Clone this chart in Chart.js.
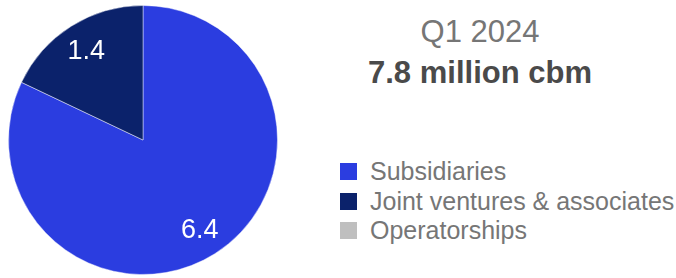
<!DOCTYPE html>
<html>
<head>
<meta charset="utf-8">
<script src="https://cdn.jsdelivr.net/npm/chart.js@4.4.1/dist/chart.umd.min.js"></script>
<style>
  body { margin: 0; background: #fff; font-family: "Liberation Sans", Arial, sans-serif; }
  #wrap { position: relative; width: 676px; height: 278px; overflow: hidden; }
  #pie-box { position: absolute; left: 0; top: 0; width: 286px; height: 278px; }
  .title { position: absolute; left: 330px; width: 300px; text-align: center; font-size: 31px; line-height: 31px; white-space: nowrap; }
  #period { top: 16px; color: #767676; }
  #total { top: 57px; color: #4a4a4a; font-weight: bold; }
  #legend { position: absolute; left: 340px; top: 157px; margin: 0; padding: 0; list-style: none; }
  #legend li { height: 29.5px; line-height: 29.5px; font-size: 25px; color: #767676; white-space: nowrap; }
  #legend span { display: inline-block; width: 17px; height: 17px; margin-right: 13px; vertical-align: baseline; }
</style>
</head>
<body>
<div id="wrap">
  <div id="pie-box"><canvas id="pie-chart"></canvas></div>
  <div class="title" id="period"></div>
  <div class="title" id="total"></div>
  <ul id="legend"></ul>
</div>
<script>
// data
const categories = ["Subsidiaries", "Joint ventures & associates", "Operatorships"];
const volumes = [6.4, 1.4, 0];
const sliceColors = ["#2b3de0", "#0b226b", "#bfbfbf"];
const periodLabel = "Q1 2024";
const totalLabel = "7.8 million cbm";

document.getElementById("period").textContent = periodLabel;
document.getElementById("total").textContent = totalLabel;

// value labels inside slices
const sliceLabels = {
  id: "sliceLabels",
  afterDatasetsDraw(chart) {
    const ctx = chart.ctx;
    const meta = chart.getDatasetMeta(0);
    ctx.save();
    ctx.fillStyle = "#ffffff";
    ctx.font = "27px 'Liberation Sans', Arial, sans-serif";
    ctx.textAlign = "center";
    ctx.textBaseline = "middle";
    meta.data.forEach((arc, i) => {
      const v = chart.data.datasets[0].data[i];
      if (!v) return;
      const mid = (arc.startAngle + arc.endAngle) / 2;
      const r = arc.outerRadius * 0.79;
      ctx.fillText(v.toFixed(1), arc.x + Math.cos(mid) * r, arc.y + Math.sin(mid) * r + 1);
    });
    ctx.restore();
  },
};

const pieChart = new Chart(document.getElementById("pie-chart"), {
  type: "pie",
  data: {
    labels: categories,
    datasets: [
      {
        data: volumes,
        backgroundColor: sliceColors,
        borderColor: "rgba(255,255,255,0.45)",
        borderWidth: 1,
      },
    ],
  },
  options: {
    responsive: true,
    maintainAspectRatio: false,
    animation: false,
    layout: { padding: { left: 8, right: 8, top: 5, bottom: 3 } },
    plugins: {
      legend: { display: false },
      tooltip: { enabled: false },
    },
  },
  plugins: [sliceLabels],
});

// legend
const ul = document.getElementById("legend");
categories.forEach((c, i) => {
  let li = document.createElement("li");
  li.innerHTML = `<span style="background:${sliceColors[i]}"></span>${c}`;
  ul.appendChild(li);
});
</script>
</body>
</html>
